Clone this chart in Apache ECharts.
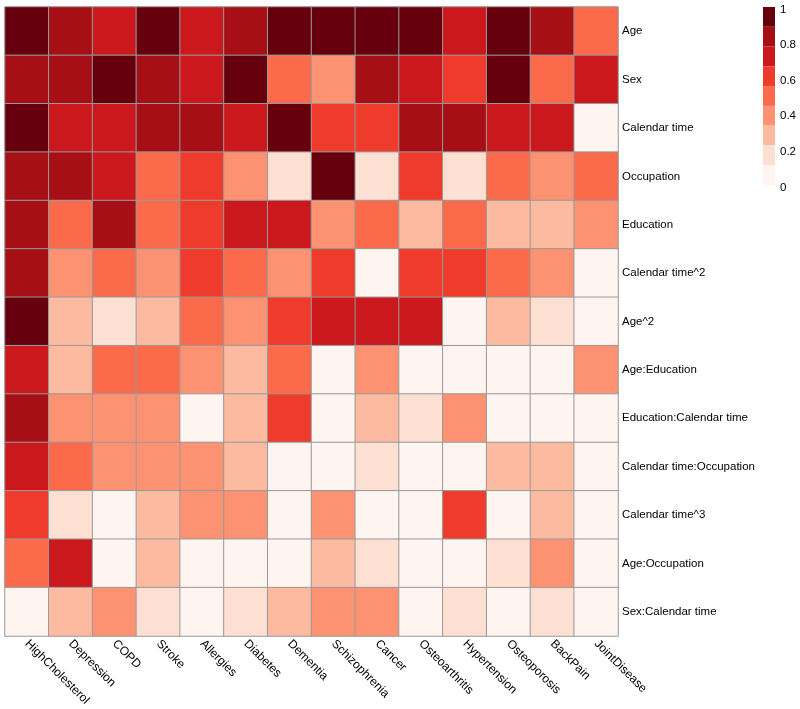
<!DOCTYPE html>
<html>
<head>
<meta charset="utf-8">
<script src="https://cdn.jsdelivr.net/npm/echarts@6/dist/echarts.min.js"></script>
<style>html,body{margin:0;padding:0;background:#fff;}#c{width:800px;height:709px;}</style>
</head>
<body>
<div id="c"></div>
<script>
const diseases = ['HighCholesterol','Depression','COPD','Stroke','Allergies','Diabetes','Dementia','Schizophrenia','Cancer','Osteoarthritis','Hypertension','Osteoporosis','BackPain','JointDisease'];
const terms = ['Age','Sex','Calendar time','Occupation','Education','Calendar time^2','Age^2','Age:Education','Education:Calendar time','Calendar time:Occupation','Calendar time^3','Age:Occupation','Sex:Calendar time'];

const rowAge        = [0.95,0.83,0.72,0.95,0.72,0.83,0.95,0.95,0.95,0.95,0.72,0.95,0.83,0.50];
const rowSex        = [0.83,0.83,0.95,0.83,0.72,0.95,0.50,0.39,0.83,0.72,0.61,0.95,0.50,0.72];
const rowCalTime    = [0.95,0.72,0.72,0.83,0.83,0.72,0.95,0.61,0.61,0.83,0.83,0.72,0.72,0.05];
const rowOccupation = [0.83,0.83,0.72,0.50,0.61,0.39,0.17,0.95,0.17,0.61,0.17,0.50,0.39,0.50];
const rowEducation  = [0.83,0.50,0.83,0.50,0.61,0.72,0.72,0.39,0.50,0.28,0.50,0.28,0.28,0.39];
const rowCalTime2   = [0.83,0.39,0.50,0.39,0.61,0.50,0.39,0.61,0.05,0.61,0.61,0.50,0.39,0.05];
const rowAge2       = [0.95,0.28,0.17,0.28,0.50,0.39,0.61,0.72,0.72,0.72,0.05,0.28,0.17,0.05];
const rowAgeEdu     = [0.72,0.28,0.50,0.50,0.39,0.28,0.50,0.05,0.39,0.05,0.05,0.05,0.05,0.39];
const rowEduCal     = [0.83,0.39,0.39,0.39,0.05,0.28,0.61,0.05,0.28,0.17,0.39,0.05,0.05,0.05];
const rowCalOcc     = [0.72,0.50,0.39,0.39,0.39,0.28,0.05,0.05,0.17,0.05,0.05,0.28,0.28,0.05];
const rowCalTime3   = [0.61,0.17,0.05,0.28,0.39,0.39,0.05,0.39,0.05,0.05,0.61,0.05,0.28,0.05];
const rowAgeOcc     = [0.50,0.72,0.05,0.28,0.05,0.05,0.05,0.28,0.17,0.05,0.05,0.17,0.39,0.05];
const rowSexCal     = [0.05,0.28,0.39,0.17,0.05,0.17,0.28,0.39,0.39,0.05,0.17,0.05,0.17,0.05];

const matrix = [rowAge,rowSex,rowCalTime,rowOccupation,rowEducation,rowCalTime2,rowAge2,rowAgeEdu,rowEduCal,rowCalOcc,rowCalTime3,rowAgeOcc,rowSexCal];

const reds = ['#FFF5F0','#FEE0D2','#FCBBA1','#FC9272','#FB6A4A','#EF3B2C','#CB181D','#A50F15','#67000D'];
const legendTicks = [0, 0.2, 0.4, 0.6, 0.8, 1];

const data = [];
matrix.forEach((row, r) => row.forEach((v, c) => data.push([c, r, v])));

const pieces = reds.map((col, i) => {
  const p = { gte: i / reds.length, color: col };
  if (i < reds.length - 1) p.lt = (i + 1) / reds.length; else p.lte = 1;
  return p;
});

const legTop = 7, legH = 178, legLeft = 763, legW = 12;
const legendTexts = legendTicks.map(t => ({
  type: 'text',
  left: legLeft + legW + 5,
  top: legTop + 2.5 + legH * (1 - t) - 6,
  style: { text: String(t), fontSize: 11.5, fontFamily: 'Liberation Sans, Arial, sans-serif', fill: '#000' }
}));

const chart = echarts.init(document.getElementById('c'));
chart.setOption({
  backgroundColor: '#fff',
  animation: false,
  grid: { left: 5, right: 182, top: 7, bottom: 73 },
  xAxis: {
    type: 'category', data: diseases, position: 'bottom',
    axisLine: { show: false }, axisTick: { show: false }, splitLine: { show: false },
    axisLabel: { rotate: -45, interval: 0, margin: 6, fontSize: 12, color: '#000', fontFamily: 'Liberation Sans, Arial, sans-serif' }
  },
  yAxis: {
    type: 'category', data: terms, inverse: true, position: 'right',
    axisLine: { show: false }, axisTick: { show: false }, splitLine: { show: false },
    axisLabel: { margin: 4, fontSize: 11.5, color: '#000', fontFamily: 'Liberation Sans, Arial, sans-serif' }
  },
  visualMap: {
    type: 'piecewise', pieces: pieces, dimension: 2,
    orient: 'vertical', left: legLeft, top: legTop, padding: 0,
    itemWidth: legW, itemHeight: legH / reds.length, itemGap: 0, itemSymbol: 'rect',
    showLabel: false, selectedMode: false, hoverLink: false
  },
  graphic: legendTexts,
  series: [{
    type: 'heatmap', data: data,
    itemStyle: { borderColor: '#999999', borderWidth: 1 },
    emphasis: { disabled: true }
  }]
});
</script>
</body>
</html>
